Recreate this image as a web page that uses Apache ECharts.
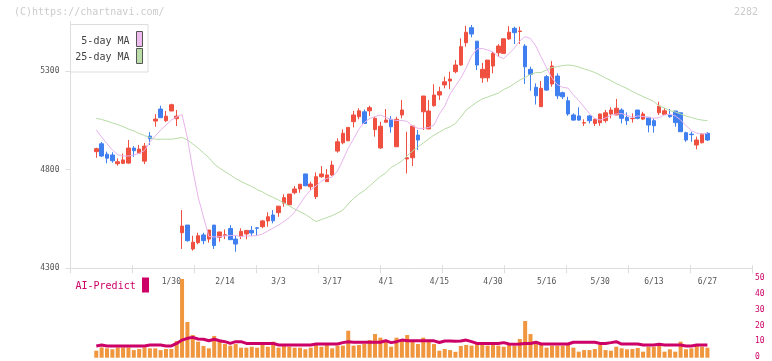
<!DOCTYPE html>
<html>
<head>
<meta charset="utf-8">
<script src="https://cdn.jsdelivr.net/npm/echarts@6/dist/echarts.min.js"></script>
<style>
html,body{margin:0;padding:0;background:#fff;}
#c{width:772px;height:361px;}
</style>
</head>
<body>
<div id="c"></div>
<script>
const dates = ['1/9','1/10','1/14','1/15','1/16','1/17','1/20','1/21','1/22','1/23','1/24','1/27','1/28','1/29','1/30','1/31',
'2/3','2/4','2/5','2/6','2/7','2/10','2/12','2/13','2/14','2/17','2/18','2/19','2/20','2/21','2/25','2/26','2/27','2/28',
'3/3','3/4','3/5','3/6','3/7','3/10','3/11','3/12','3/13','3/14','3/17','3/18','3/19','3/21','3/24','3/25','3/26','3/27','3/28','3/31',
'4/1','4/2','4/3','4/4','4/7','4/8','4/9','4/10','4/11','4/14','4/15','4/16','4/17','4/18','4/21','4/22','4/23','4/24','4/25','4/28','4/30',
'5/1','5/2','5/7','5/8','5/9','5/12','5/13','5/14','5/15','5/16','5/19','5/20','5/21','5/22','5/23','5/26','5/27','5/28','5/29','5/30',
'6/2','6/3','6/4','6/5','6/6','6/9','6/10','6/11','6/12','6/13','6/16','6/17','6/18','6/19','6/20','6/23','6/24','6/25','6/26','6/27'];
const tickLabels = ['1/30','2/14','3/3','3/17','4/1','4/15','4/30','5/16','5/30','6/13','6/27'];
const priceTicks = [4300, 4800, 5300];
const volTicks = [0, 10, 20, 30, 40, 50];

const opens = [4891,4931,4878,4874,4830,4832,4833,4909,4883,4843,
4970,5046,5107,5048,5097,5058,4480,4519,4398,4430,
4469,4448,4519,4457,4466,4502,4448,4462,4474,4492,
4505,4511,4540,4570,4582,4630,4622,4683,4702,4778,
4713,4663,4764,4739,4773,4894,4936,4946,5043,5068,
5093,5098,5003,4910,5040,5055,4916,5077,4854,4860,
4975,5093,5006,5124,5178,5229,5249,5296,5330,5443,
5519,5451,5265,5265,5325,5392,5389,5462,5516,5500,
5426,5308,5217,5119,5271,5234,5274,5190,5149,5077,
5072,5036,5072,5034,5038,5048,5082,5077,5102,5065,
5058,5102,5056,5065,5048,5088,5080,5077,5097,5088,
4987,4980,4925,4936,4984];
const closes = [4906,4869,4858,4845,4840,4849,4909,4896,4904,4919,
4957,5056,5063,5071,5129,5071,4514,4440,4432,4465,
4440,4494,4415,4484,4470,4445,4423,4487,4492,4479,
4503,4540,4561,4541,4615,4658,4676,4702,4726,4718,
4727,4764,4778,4773,4823,4941,4984,5014,5077,5098,
5034,5114,5060,5020,5051,5017,5055,5102,4860,5021,
4950,5173,5097,5178,5195,5245,5259,5330,5423,5496,
5487,5330,5308,5355,5389,5426,5463,5496,5494,5502,
5321,5283,5174,5212,5203,5325,5174,5169,5082,5051,
5051,5038,5048,5055,5082,5088,5102,5111,5060,5048,
5060,5060,5082,5026,5022,5122,5098,5068,5038,4992,
4950,4977,4950,4980,4950];
const lows = [4860,4864,4832,4835,4820,4828,4830,4865,4880,4828,
4925,5017,5063,5041,5097,5021,4398,4435,4389,4422,
4422,4430,4398,4435,4448,4445,4384,4448,4447,4464,
4464,4503,4511,4528,4561,4612,4620,4675,4683,4718,
4697,4651,4759,4739,4768,4886,4929,4946,5014,5055,
5034,5072,4967,4905,5040,4987,4916,5060,4781,4818,
4899,5001,5006,5119,5153,5212,5208,5288,5326,5423,
5470,5305,5240,5245,5288,5372,5389,5457,5436,5436,
5234,5200,5130,5119,5200,5220,5158,5158,5073,5048,
5048,5021,5034,5021,5022,5038,5060,5077,5034,5026,
5038,5055,5051,4989,4987,5077,5077,5063,5017,4992,
4941,4941,4903,4933,4946];
const highs = [4911,4940,4891,4888,4857,4881,4950,4919,4925,4935,
4990,5081,5124,5097,5134,5102,4595,4519,4465,4480,
4480,4494,4519,4486,4497,4519,4464,4503,4494,4514,
4508,4545,4584,4595,4615,4675,4676,4717,4726,4778,
4739,4786,4818,4803,4845,4959,5004,5014,5098,5111,
5105,5124,5068,5043,5107,5072,5068,5153,4992,5021,
5001,5173,5153,5233,5220,5271,5296,5355,5465,5529,
5533,5451,5341,5355,5397,5436,5463,5527,5524,5524,
5436,5321,5237,5249,5279,5350,5288,5195,5169,5085,
5116,5055,5077,5060,5082,5102,5116,5158,5111,5090,
5085,5102,5093,5065,5060,5144,5111,5107,5097,5088,
4992,4992,4967,4984,4990];
const ma5 = [5001,4965,4932,4899,4876,4869,4869,4874,4882,4897,
4940,4970,5001,5026,5051,5066,5079,4960,4798,4661,
4560,4461,4459,4460,4464,4466,4466,4461,4464,4464,
4466,4474,4489,4504,4519,4537,4557,4585,4626,4666,
4697,4717,4742,4755,4763,4793,4849,4909,4955,5006,
5039,5059,5069,5077,5065,5054,5049,5049,5044,5021,
5009,5009,5013,5026,5082,5122,5183,5224,5264,5315,
5376,5411,5414,5406,5396,5373,5363,5388,5416,5452,
5474,5464,5426,5370,5315,5264,5231,5217,5213,5178,
5150,5117,5084,5059,5051,5062,5075,5082,5084,5075,
5065,5072,5069,5064,5060,5064,5077,5080,5072,5052,
5023,4998,4985,4980,4984];
const ma25 = [5060,5054,5046,5036,5028,5018,5006,4996,4983,4973,
4963,4954,4954,4954,4954,4958,4963,4950,4930,4909,
4884,4861,4828,4808,4790,4773,4755,4740,4727,4714,
4699,4687,4671,4659,4646,4631,4616,4600,4587,4573,
4555,4537,4547,4557,4567,4580,4595,4626,4654,4676,
4694,4717,4742,4765,4783,4811,4826,4844,4871,4894,
4915,4935,4955,4975,4990,5006,5017,5034,5066,5102,
5122,5142,5158,5168,5178,5188,5206,5218,5236,5254,
5267,5282,5292,5292,5305,5317,5322,5327,5330,5327,
5320,5310,5302,5292,5279,5264,5251,5236,5224,5211,
5196,5183,5170,5158,5145,5122,5112,5099,5092,5082,
5072,5064,5056,5051,5048];
const volume = [4.4,6.5,5.9,5.3,6.5,6.5,6.5,4.8,5.5,6.5,
5.9,5.9,4.8,5.5,5.5,10.5,49.6,22.5,14.3,10.1,
7.4,5.9,13.7,10.1,8.6,7.6,8.6,6.3,6.3,6.9,
6.3,8.0,6.9,10.1,6.3,7.6,6.9,6.3,6.3,5.3,
6.3,8.0,6.9,8.0,5.9,7.6,7.6,17.0,7.6,8.0,
8.6,11.1,14.9,12.6,10.1,6.9,12.6,11.1,14.3,10.1,
8.6,12.6,10.1,8.6,4.4,5.5,4.8,3.7,7.4,8.0,
7.6,8.6,8.6,7.6,8.6,7.6,6.9,9.0,7.4,11.8,
23.1,14.9,9.7,8.0,6.3,7.6,7.6,7.6,8.0,6.3,
3.8,4.8,4.8,5.5,8.0,4.8,4.4,6.9,5.9,5.3,
5.5,6.1,3.8,6.9,6.9,7.6,3.8,5.3,3.8,10.1,
5.3,5.9,7.4,6.9,6.3];
const aiPredict = [7.4,8.0,7.4,7.4,7.4,7.4,7.4,7.4,7.4,7.4,
8.0,8.0,8.0,7.4,7.4,9.0,11.1,12.2,12.8,11.8,
11.6,10.7,11.6,10.7,10.1,9.0,10.1,10.1,9.0,9.0,
9.0,9.0,9.0,9.0,8.0,8.0,8.0,8.0,8.0,8.0,
8.0,8.6,8.6,8.6,8.6,8.6,9.5,10.1,9.7,9.7,
9.7,9.7,9.7,9.7,10.7,9.5,10.1,11.1,10.7,10.7,
10.7,10.6,10.6,10.6,9.6,10.5,10.5,10.3,10.5,11.1,
10.1,9.0,9.0,9.0,9.0,9.0,9.5,8.6,8.4,8.6,
9.0,9.0,9.7,8.6,8.6,8.6,8.6,8.6,8.6,9.7,
9.7,9.7,9.7,9.7,9.0,9.0,9.5,10.1,8.6,8.6,
8.6,8.6,8.0,8.0,8.0,8.4,8.0,8.0,8.0,8.0,
7.4,7.4,8.0,8.0,8.0];

const candleData = opens.map((o, i) => [o, closes[i], lows[i], highs[i]]);

const MONO = '"DejaVu Sans Mono", "Liberation Mono", monospace';
const UP = '#ef5040', DOWN = '#3f7fef';
const AXIS = '#dddddd';

const chart = echarts.init(document.getElementById('c'), null, {renderer: 'canvas', width: 772, height: 361});

const frameLeft = 70.5, frameRight = 19.3;
const plotTop = 21.6, plotBottom = 92.7;
const candleLeft = 93.6, candleWidth = 616.5;
const volTop = 278.3, volBottom = 3.3;

chart.setOption({
  animation: false,
  backgroundColor: '#fff',
  grid: [
    {left: frameLeft, right: frameRight, top: plotTop, bottom: plotBottom},
    {left: candleLeft, width: candleWidth, top: plotTop, bottom: plotBottom},
    {left: candleLeft, width: candleWidth, top: volTop, bottom: volBottom},
    {left: frameLeft, right: frameRight, top: volTop, bottom: volBottom}
  ],
  xAxis: [
    {gridIndex: 0, type: 'value', min: 0, max: 11, interval: 1,
     axisLine: {show: true, lineStyle: {color: AXIS, width: 1}},
     axisTick: {show: true, length: 5, lineStyle: {color: AXIS}},
     axisLabel: {show: false}, splitLine: {show: false}},
    {gridIndex: 0, type: 'value', min: 0, max: 11, interval: 1, position: 'bottom',
     axisLine: {show: false},
     axisTick: {show: true, inside: true, length: 3, lineStyle: {color: AXIS}},
     axisLabel: {show: false}, splitLine: {show: false}},
    {gridIndex: 1, type: 'category', data: dates, boundaryGap: true,
     axisLine: {show: false}, axisTick: {show: false}, splitLine: {show: false},
     axisLabel: {show: true, interval: (idx, val) => tickLabels.includes(val),
       color: '#555', fontFamily: MONO, fontSize: 8, margin: 9.5}},
    {gridIndex: 2, type: 'category', data: dates, boundaryGap: true, show: false},
    {gridIndex: 3, type: 'value', min: 0, max: 1, show: false}
  ],
  yAxis: [
    {gridIndex: 0, type: 'value', min: 4300, max: 5550,
     axisLine: {show: true, lineStyle: {color: AXIS, width: 1}},
     axisTick: {show: true, length: 5, lineStyle: {color: AXIS}, customValues: priceTicks},
     axisLabel: {show: true, customValues: priceTicks, formatter: v => String(v),
       color: '#555', fontFamily: MONO, fontSize: 8, margin: 11},
     splitLine: {show: false}},
    {gridIndex: 1, type: 'value', min: 4300, max: 5550, show: false, splitLine: {show: false}},
    {gridIndex: 2, type: 'value', min: 0, max: 50, show: false, splitLine: {show: false}},
    {gridIndex: 3, type: 'value', position: 'right', min: 0, max: 50, interval: 10,
     axisLine: {show: false}, axisTick: {show: false}, splitLine: {show: false},
     axisLabel: {show: true, customValues: volTicks, formatter: v => String(v),
       color: '#cc0066', fontFamily: MONO, fontSize: 8, margin: 2.3, align: 'left'}}
  ],
  series: [
    {type: 'candlestick', xAxisIndex: 2, yAxisIndex: 1, data: candleData, barWidth: 4,
     itemStyle: {color: UP, color0: DOWN, borderColor: UP, borderColor0: DOWN, borderWidth: 1}},
    {type: 'line', xAxisIndex: 2, yAxisIndex: 1, data: ma25, symbol: 'none', z: 5,
     lineStyle: {color: '#b6dca4', width: 1}},
    {type: 'line', xAxisIndex: 2, yAxisIndex: 1, data: ma5, symbol: 'none', z: 5,
     lineStyle: {color: '#e8b4ee', width: 1}},
    {type: 'bar', xAxisIndex: 3, yAxisIndex: 2, data: volume, barWidth: 4,
     itemStyle: {color: '#f0963e'}},
    {type: 'line', xAxisIndex: 3, yAxisIndex: 2, data: aiPredict, symbol: 'none', z: 5,
     lineStyle: {color: '#cc0066', width: 3}}
  ],
  graphic: [
    {type: 'text', left: 14, top: 7, style: {text: '(C)https://chartnavi.com/', fill: '#cccccc', font: '10px ' + MONO}},
    {type: 'text', right: 14, top: 7, style: {text: '2282', fill: '#cccccc', font: '10px ' + MONO}},
    {type: 'rect', shape: {x: 70.5, y: 24.5, width: 77.5, height: 47.5}, style: {fill: '#fff', stroke: '#dddddd', lineWidth: 1}, z: 10},
    {type: 'text', z: 11, style: {x: 129.5, y: 41, text: '5-day MA', fill: '#444', font: '10px ' + MONO, textAlign: 'right', textVerticalAlign: 'middle', verticalAlign: 'middle'}},
    {type: 'text', z: 11, style: {x: 129.5, y: 57, text: '25-day MA', fill: '#444', font: '10px ' + MONO, textAlign: 'right', textVerticalAlign: 'middle', verticalAlign: 'middle'}},
    {type: 'rect', z: 11, shape: {x: 136.5, y: 31.5, width: 6, height: 15}, style: {fill: '#eebbee', stroke: '#555', lineWidth: 1}},
    {type: 'rect', z: 11, shape: {x: 136.5, y: 48.5, width: 6, height: 15}, style: {fill: '#bbddaa', stroke: '#555', lineWidth: 1}},
    {type: 'text', z: 11, style: {x: 75.5, y: 286, text: 'AI-Predict', fill: '#cc0066', font: '10px ' + MONO, textAlign: 'left', textVerticalAlign: 'middle', verticalAlign: 'middle'}},
    {type: 'rect', z: 11, shape: {x: 142, y: 277.5, width: 7, height: 15}, style: {fill: '#cc0066'}}
  ]
});
</script>
</body>
</html>
